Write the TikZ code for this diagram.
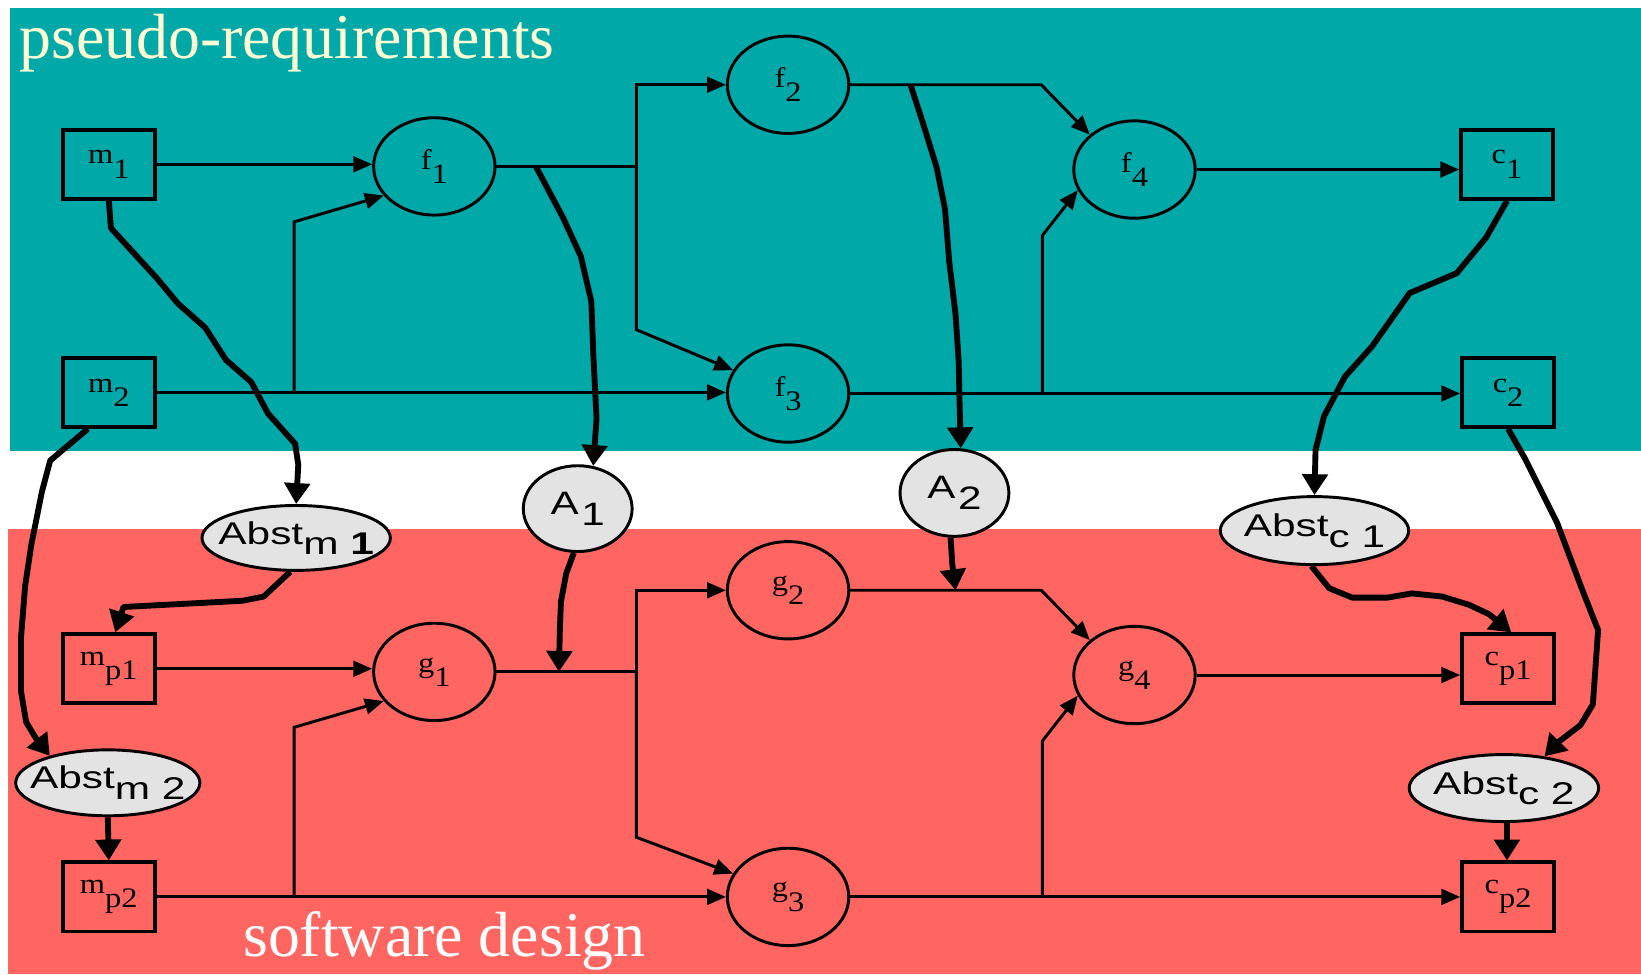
\documentclass[tikz,border=0pt]{standalone}
\usepackage{fontspec}
\setmainfont{Liberation Serif}
\newfontfamily\helv{Liberation Sans}
\usetikzlibrary{arrows.meta,shapes.geometric}

\definecolor{reqteal}{RGB}{0,168,168}
\definecolor{designred}{RGB}{255,102,97}
\definecolor{titlecream}{RGB}{255,255,212}
\definecolor{abstgray}{RGB}{227,227,227}

% serif label: letter with a lowered index of the same size
\newcommand\slbl[2]{\makebox[0pt]{\fontsize{13.5}{13.5}\selectfont\scalebox{1.15}[1]{#1\raisebox{-6.8pt}{#2}}}}
% sans labels of the abstraction / assumption nodes
\newcommand\abstlbl[1]{\makebox[0pt]{\helv\fontsize{15}{15}\selectfont\scalebox{1.35}[1]{Abst\raisebox{-5pt}{#1}}}}
\newcommand\albl[1]{\makebox[0pt]{\helv\fontsize{15.5}{15.5}\selectfont\scalebox{1.3}[1]{A\kern1pt\raisebox{-5.5pt}{#1}}}}

\begin{document}
\begin{tikzpicture}[x=0.5pt,y=-0.5pt,
  pbox/.style={draw,line width=1.8pt,minimum width=44pt,minimum height=33pt,inner sep=0pt},
  proc/.style={ellipse,draw,line width=1.4pt,minimum width=58pt,minimum height=46.5pt,inner sep=0pt},
  abst/.style={ellipse,draw,line width=1.4pt,fill=abstgray,inner sep=0pt},
  flow/.style={line width=1.4pt,-{Triangle[length=9pt,width=7.5pt]}},
  mapto/.style={line width=2.8pt,line join=round,-{Triangle[length=10pt,width=12pt]}},
  title/.style={anchor=base west,inner sep=0pt,font=\fontsize{30.5}{30.5}\selectfont},
]
% canvas and the two layers
\fill[white] (0,0) rectangle (1568,931);
\useasboundingbox (0,0) rectangle (1568,931);
\fill[reqteal] (10,8) rectangle (1568,431);
\fill[designred] (8,505) rectangle (1568,931);

\node[title,text=titlecream] (ttlreq) at (18,56) {pseudo-requirements};
\node[title,text=white] (ttldes) at (232,914) {software design};

% pseudo-requirements layer
\node[pbox] (m1) at (104,157) {\slbl{m}{1}};
\node[pbox] (m2) at (104,375) {\slbl{m}{2}};
\node[pbox] (c1) at (1440,157) {\slbl{c}{1}};
\node[pbox] (c2) at (1441,375) {\slbl{c}{2}};
\node[proc] (f1) at (415,159) {\slbl{f}{1}};
\node[proc] (f2) at (753,81) {\slbl{f}{2}};
\node[proc] (f3) at (753,376) {\slbl{f}{3}};
\node[proc] (f4) at (1084,162) {\slbl{f}{4}};

% software design layer
\node[pbox] (mp1) at (104,639) {\slbl{m}{p1}};
\node[pbox] (mp2) at (104,857) {\slbl{m}{p2}};
\node[pbox] (cp1) at (1441,639) {\slbl{c}{p1}};
\node[pbox] (cp2) at (1441,857) {\slbl{c}{p2}};
\node[proc] (g1) at (415,642) {\slbl{g}{1}};
\node[proc] (g2) at (753,564) {\slbl{g}{2}};
\node[proc] (g3) at (753,857) {\slbl{g}{3}};
\node[proc] (g4) at (1084,645) {\slbl{g}{4}};

% abstractions and assumptions between the layers
\node[abst,minimum width=90pt,minimum height=31pt] (am1) at (283,514) {\abstlbl{m \textbf{1}}};
\node[abst,minimum width=88pt,minimum height=31.5pt] (am2) at (103,748) {\abstlbl{m 2}};
\node[abst,minimum width=52pt,minimum height=41pt] (A1) at (552,486) {\albl{1}};
\node[abst,minimum width=52pt,minimum height=41.5pt] (A2) at (912,471) {\albl{2}};
\node[abst,minimum width=90pt,minimum height=32.5pt] (ac1) at (1256,507) {\abstlbl{c 1}};
\node[abst,minimum width=90.5pt,minimum height=32pt] (ac2) at (1437,753) {\abstlbl{c 2}};

% junction points of the flows
\coordinate (j1) at (281,375);
\coordinate (j1b) at (281,212);
\coordinate (s1) at (608,159);
\coordinate (s1b) at (608,315);
\coordinate (k1) at (995,81);
\coordinate (j2) at (996,376);
\coordinate (j2b) at (996,225);
\coordinate (j3) at (281,857);
\coordinate (j3b) at (281,695);
\coordinate (s2) at (608,642);
\coordinate (s2b) at (608,800);
\coordinate (k2) at (995,564);
\coordinate (j4) at (996,857);
\coordinate (j4b) at (996,708);
\coordinate (t1) at (512,159);
\coordinate (t2) at (870,81);
\coordinate (t3) at (534,642);
\coordinate (t4) at (913,564);

% flows of the pseudo-requirements
\draw[flow] (m1.east) -- (m1.east -| f1.west);
\draw[flow] (m2.east) -- (m2.east -| f3.west);
\draw[flow] (j1) -- (j1b) -- (f1.210);
\draw[flow] (f1.east) -- (s1) |- (f2.west);
\draw[flow] (s1) -- (s1b) -- (f3.157);
\draw[flow] (f2.east) -- (k1) -- (f4.142);
\draw[flow] (f3.east) -- (f3.east -| c2.west);
\draw[flow] (j2) -- (j2b) -- (f4.200);
\draw[flow] (f4.east) -- (f4.east -| c1.west);

% flows of the design
\draw[flow] (mp1.east) -- (mp1.east -| g1.west);
\draw[flow] (mp2.east) -- (mp2.east -| g3.west);
\draw[flow] (j3) -- (j3b) -- (g1.210);
\draw[flow] (g1.east) -- (s2) |- (g2.west);
\draw[flow] (s2) -- (s2b) -- (g3.157);
\draw[flow] (g2.east) -- (k2) -- (g4.142);
\draw[flow] (g3.east) -- (g3.east -| cp2.west);
\draw[flow] (j4) -- (j4b) -- (g4.200);
\draw[flow] (g4.east) -- (g4.east -| cp1.west);

% mappings from the requirements to the design
\draw[mapto] (m1.south) -- (106,218) -- (150,266) -- (170,290) -- (196,313) -- (216,344)
  -- (240,365) -- (256,395) -- (282,424) -- (285,444) -- (am1.north);
\draw[mapto] (m2.-120) -- (48,440) -- (40,470) -- (30,520) -- (24,560) -- (20,610)
  -- (20,660) -- (25,690) -- (34,705) -- (am2.155);
\draw[mapto] (t1) -- (538,208) -- (555,245) -- (565,288) -- (567,340) -- (570,400) -- (A1.70);
\draw[mapto] (t2) -- (882,118) -- (895,160) -- (903,200) -- (907,250) -- (913,300)
  -- (916,345) -- (917,390) -- (A2.82);
\draw[mapto] (c1.south) -- (1420,227) -- (1392,261) -- (1347,280) -- (1311,331)
  -- (1285,360) -- (1265,398) -- (1257,430) -- (ac1.north);
\draw[mapto] (c2.south) -- (1457,438) -- (1488,500) -- (1512,564) -- (1527,602)
  -- (1522,673) -- (1510,693) -- (1489,709) -- (ac2.38);

\draw[mapto] (am1.-100) -- (252,570) -- (232,574) -- (118,580) -- (mp1.80);
\draw[mapto] (am2.south) -- (mp2.north);
\draw[mapto] (A1.-95) -- (541,548) -- (536,575) -- (535,600) -- (t3);
\draw[mapto] (A2.-95) -- (910,540) -- (t4);
\draw[mapto] (ac1.-95) -- (1270,562) -- (1292,571) -- (1326,571) -- (1349,567)
  -- (1378,570) -- (1404,578) -- (1423,587) -- (cp1.85);
\draw[mapto] (ac2.-85) -- (cp2.north -| ac2.-85);
\end{tikzpicture}
\end{document}
